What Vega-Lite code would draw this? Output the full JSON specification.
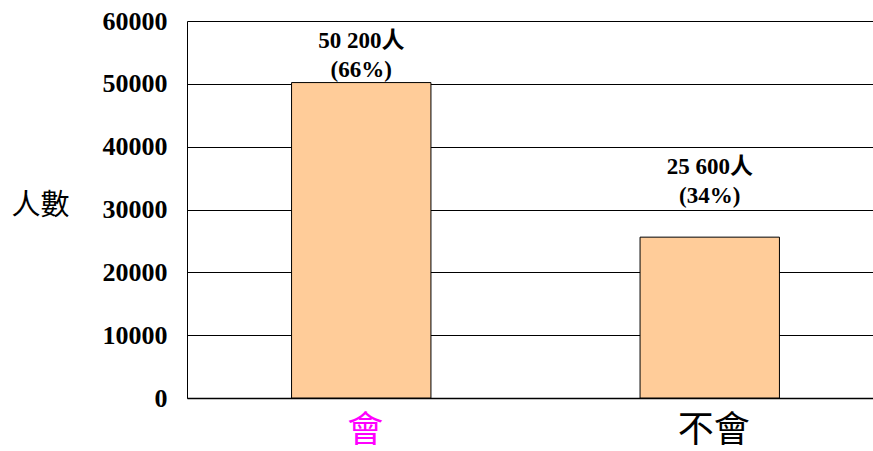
{
  "$schema": "https://vega.github.io/schema/vega-lite/v6.json",
  "autosize": {"type": "none"},
  "padding": {"left": 187, "top": 21, "right": 0, "bottom": 53},
  "width": 686,
  "height": 377,
  "background": "white",
  "data": {
    "values": [
      {"answer": "會", "count": 50200, "label": "50 200人\n(66%)"},
      {"answer": "不會", "count": 25600, "label": "25 600人\n(34%)"}
    ]
  },
  "encoding": {
    "x": {
      "field": "answer",
      "type": "nominal",
      "sort": ["會", "不會"],
      "scale": {"range": [0, 697], "paddingInner": 0.6, "paddingOuter": 0.3},
      "axis": {
        "title": null,
        "labelAngle": 0,
        "labelFont": "Noto Sans CJK TC",
        "labelFontSize": 36,
        "labelFontWeight": "normal",
        "labelColor": {"condition": {"test": "datum.value === '會'", "value": "#FF00FF"}, "value": "#000000"},
        "labelPadding": 15,
        "labelOffset": 4,
        "ticks": false,
        "domainColor": "#000000",
        "domainWidth": 1.5,
        "grid": false
      }
    },
    "y": {
      "field": "count",
      "type": "quantitative",
      "scale": {"domain": [0, 60000], "nice": false},
      "axis": {
        "values": [0, 10000, 20000, 30000, 40000, 50000, 60000],
        "format": "d",
        "labelFont": "Liberation Serif",
        "labelFontWeight": "bold",
        "labelFontSize": 26,
        "labelColor": "#000000",
        "labelPadding": 20,
        "ticks": false,
        "domainColor": "#000000",
        "domainWidth": 1,
        "grid": true,
        "gridColor": "#000000",
        "gridWidth": 1,
        "gridOpacity": 1,
        "title": "人數",
        "titleFont": "Noto Sans CJK TC",
        "titleFontSize": 29,
        "titleFontWeight": "normal",
        "titleColor": "#000000",
        "titleAngle": 0,
        "titleAlign": "center",
        "titleBaseline": "middle",
        "titleX": -147,
        "titleY": 184
      }
    }
  },
  "layer": [
    {
      "mark": {"type": "bar", "fill": "#FFCC99", "stroke": "#000000", "strokeWidth": 1}
    },
    {
      "transform": [{"filter": "datum.answer === '會'"}],
      "mark": {"type": "text", "font": "Liberation Serif, Noto Sans CJK TC", "fontWeight": "bold", "fontSize": 23, "lineBreak": "\n", "lineHeight": 29, "baseline": "alphabetic", "align": "center", "dy": -35, "color": "#000000"},
      "encoding": {"text": {"field": "label"}}
    },
    {
      "transform": [{"filter": "datum.answer === '不會'"}],
      "mark": {"type": "text", "font": "Liberation Serif, Noto Sans CJK TC", "fontWeight": "bold", "fontSize": 23, "lineBreak": "\n", "lineHeight": 29, "baseline": "alphabetic", "align": "center", "dy": -63, "color": "#000000"},
      "encoding": {"text": {"field": "label"}}
    }
  ],
  "config": {"view": {"stroke": null}}
}
